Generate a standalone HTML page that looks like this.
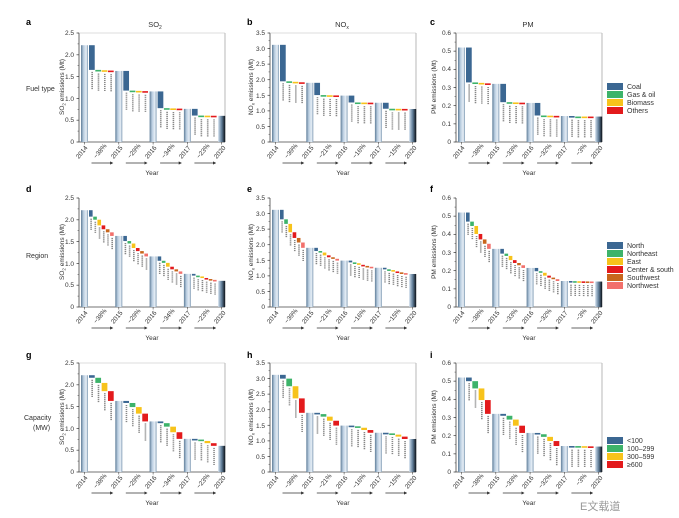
<!DOCTYPE html>
<html><head><meta charset="utf-8"><style>
html,body{margin:0;padding:0;background:#fff;width:679px;height:518px;overflow:hidden}
svg{display:block;font-family:"Liberation Sans",Arial,sans-serif}
.t{font-size:6.5px;fill:#333}
.yl{font-size:6.5px;fill:#333}
.lab{font-size:9px;font-weight:bold;fill:#000}
.lg{font-size:7px;fill:#333}
</style></head><body>
<svg id="s" width="679" height="518" viewBox="0 0 679 518">
<defs>
<linearGradient id="g1" x1="0" x2="1" y1="0" y2="0"><stop offset="0" stop-color="#5f7d98"/><stop offset="0.35" stop-color="#b9cde0"/><stop offset="0.75" stop-color="#e6eef6"/><stop offset="1" stop-color="#7f9ab3"/></linearGradient>
<linearGradient id="g2" x1="0" x2="1" y1="0" y2="0"><stop offset="0" stop-color="#cfdeec"/><stop offset="0.5" stop-color="#5f7d98"/><stop offset="1" stop-color="#0a0f16"/></linearGradient>
<marker id="ar" markerWidth="4" markerHeight="4" refX="3" refY="2" orient="auto"><path d="M0,0 L4,2 L0,4z" fill="#333"/></marker>
</defs>
<g id="bars"></g>

<text class="lab" x="26" y="25">a</text><text class="lab" x="247" y="25">b</text><text class="lab" x="430" y="25">c</text>
<text class="lab" x="26" y="192">d</text><text class="lab" x="247" y="192">e</text><text class="lab" x="430" y="192">f</text>
<text class="lab" x="26" y="358">g</text><text class="lab" x="247" y="358">h</text><text class="lab" x="430" y="358">i</text>
<text class="t" x="155" y="27" text-anchor="middle" style="font-size:7.5px">SO<tspan style="font-size:5px" dy="2">2</tspan></text>
<text class="t" x="342" y="27" text-anchor="middle" style="font-size:7.5px">NO<tspan style="font-size:5px" dy="2">x</tspan></text>
<text class="t" x="528" y="27" text-anchor="middle" style="font-size:7.5px">PM</text>
<text class="t" x="26" y="91" style="font-size:7px">Fuel type</text>
<text class="t" x="26" y="258" style="font-size:7px">Region</text>
<text class="t" x="24" y="420" style="font-size:7px">Capacity</text>
<text class="t" x="33" y="430" style="font-size:7px">(MW)</text>

<text class="yl" transform="translate(64,87) rotate(-90)" text-anchor="middle">SO<tspan style="font-size:4.5px" dy="1.5">2</tspan><tspan dy="-1.5"> emissions (Mt)</tspan></text>
<text class="yl" transform="translate(64,252) rotate(-90)" text-anchor="middle">SO<tspan style="font-size:4.5px" dy="1.5">2</tspan><tspan dy="-1.5"> emissions (Mt)</tspan></text>
<text class="yl" transform="translate(64,417) rotate(-90)" text-anchor="middle">SO<tspan style="font-size:4.5px" dy="1.5">2</tspan><tspan dy="-1.5"> emissions (Mt)</tspan></text>
<text class="yl" transform="translate(253,87) rotate(-90)" text-anchor="middle">NO<tspan style="font-size:4.5px" dy="1.5">x</tspan><tspan dy="-1.5"> emissions (Mt)</tspan></text>
<text class="yl" transform="translate(253,252) rotate(-90)" text-anchor="middle">NO<tspan style="font-size:4.5px" dy="1.5">x</tspan><tspan dy="-1.5"> emissions (Mt)</tspan></text>
<text class="yl" transform="translate(253,417) rotate(-90)" text-anchor="middle">NO<tspan style="font-size:4.5px" dy="1.5">x</tspan><tspan dy="-1.5"> emissions (Mt)</tspan></text>
<text class="yl" transform="translate(436,87) rotate(-90)" text-anchor="middle">PM emissions (Mt)</text>
<text class="yl" transform="translate(436,252) rotate(-90)" text-anchor="middle">PM emissions (Mt)</text>
<text class="yl" transform="translate(436,417) rotate(-90)" text-anchor="middle">PM emissions (Mt)</text>

<g class="t" text-anchor="end">
<g transform="translate(79,33)"><text x="-5" y="111">0</text><text x="-5" y="89">0.5</text><text x="-5" y="68">1.0</text><text x="-5" y="46">1.5</text><text x="-5" y="24">2.0</text><text x="-5" y="2">2.5</text></g>
<g transform="translate(79,198)"><text x="-5" y="111">0</text><text x="-5" y="89">0.5</text><text x="-5" y="68">1.0</text><text x="-5" y="46">1.5</text><text x="-5" y="24">2.0</text><text x="-5" y="2">2.5</text></g>
<g transform="translate(79,363)"><text x="-5" y="111">0</text><text x="-5" y="89">0.5</text><text x="-5" y="68">1.0</text><text x="-5" y="46">1.5</text><text x="-5" y="24">2.0</text><text x="-5" y="2">2.5</text></g>
<g transform="translate(270,33)"><text x="-5" y="111">0</text><text x="-5" y="96">0.5</text><text x="-5" y="80">1.0</text><text x="-5" y="65">1.5</text><text x="-5" y="49">2.0</text><text x="-5" y="33">2.5</text><text x="-5" y="18">3.0</text><text x="-5" y="2">3.5</text></g>
<g transform="translate(270,198)"><text x="-5" y="111">0</text><text x="-5" y="96">0.5</text><text x="-5" y="80">1.0</text><text x="-5" y="65">1.5</text><text x="-5" y="49">2.0</text><text x="-5" y="33">2.5</text><text x="-5" y="18">3.0</text><text x="-5" y="2">3.5</text></g>
<g transform="translate(270,363)"><text x="-5" y="111">0</text><text x="-5" y="96">0.5</text><text x="-5" y="80">1.0</text><text x="-5" y="65">1.5</text><text x="-5" y="49">2.0</text><text x="-5" y="33">2.5</text><text x="-5" y="18">3.0</text><text x="-5" y="2">3.5</text></g>
<g transform="translate(456,33)"><text x="-5" y="111">0</text><text x="-5" y="93">0.1</text><text x="-5" y="75">0.2</text><text x="-5" y="57">0.3</text><text x="-5" y="38">0.4</text><text x="-5" y="20">0.5</text><text x="-5" y="2">0.6</text></g>
<g transform="translate(456,198)"><text x="-5" y="111">0</text><text x="-5" y="93">0.1</text><text x="-5" y="75">0.2</text><text x="-5" y="57">0.3</text><text x="-5" y="38">0.4</text><text x="-5" y="20">0.5</text><text x="-5" y="2">0.6</text></g>
<g transform="translate(456,363)"><text x="-5" y="111">0</text><text x="-5" y="93">0.1</text><text x="-5" y="75">0.2</text><text x="-5" y="57">0.3</text><text x="-5" y="38">0.4</text><text x="-5" y="20">0.5</text><text x="-5" y="2">0.6</text></g>
</g>

<g class="t">
<g transform="translate(79,33)"><text text-anchor="end" transform="translate(9,115) rotate(-50)">2014</text><text text-anchor="end" transform="translate(44,115) rotate(-50)">2015</text><text text-anchor="end" transform="translate(78,115) rotate(-50)">2016</text><text text-anchor="end" transform="translate(112,115) rotate(-50)">2017</text><text text-anchor="end" transform="translate(147,115) rotate(-50)">2020</text><text text-anchor="end" transform="translate(28,113) rotate(-50)">−38%</text><text text-anchor="end" transform="translate(62,113) rotate(-50)">−29%</text><text text-anchor="end" transform="translate(96,113) rotate(-50)">−34%</text><text text-anchor="end" transform="translate(131,113) rotate(-50)">−23%</text><text x="73" y="142" text-anchor="middle">Year</text></g>
<g transform="translate(79,198)"><text text-anchor="end" transform="translate(9,115) rotate(-50)">2014</text><text text-anchor="end" transform="translate(44,115) rotate(-50)">2015</text><text text-anchor="end" transform="translate(78,115) rotate(-50)">2016</text><text text-anchor="end" transform="translate(112,115) rotate(-50)">2017</text><text text-anchor="end" transform="translate(147,115) rotate(-50)">2020</text><text text-anchor="end" transform="translate(28,113) rotate(-50)">−38%</text><text text-anchor="end" transform="translate(62,113) rotate(-50)">−29%</text><text text-anchor="end" transform="translate(96,113) rotate(-50)">−34%</text><text text-anchor="end" transform="translate(131,113) rotate(-50)">−23%</text><text x="73" y="142" text-anchor="middle">Year</text></g>
<g transform="translate(79,363)"><text text-anchor="end" transform="translate(9,115) rotate(-50)">2014</text><text text-anchor="end" transform="translate(44,115) rotate(-50)">2015</text><text text-anchor="end" transform="translate(78,115) rotate(-50)">2016</text><text text-anchor="end" transform="translate(112,115) rotate(-50)">2017</text><text text-anchor="end" transform="translate(147,115) rotate(-50)">2020</text><text text-anchor="end" transform="translate(28,113) rotate(-50)">−38%</text><text text-anchor="end" transform="translate(62,113) rotate(-50)">−29%</text><text text-anchor="end" transform="translate(96,113) rotate(-50)">−34%</text><text text-anchor="end" transform="translate(131,113) rotate(-50)">−23%</text><text x="73" y="142" text-anchor="middle">Year</text></g>
<g transform="translate(270,33)"><text text-anchor="end" transform="translate(9,115) rotate(-50)">2014</text><text text-anchor="end" transform="translate(44,115) rotate(-50)">2015</text><text text-anchor="end" transform="translate(78,115) rotate(-50)">2016</text><text text-anchor="end" transform="translate(112,115) rotate(-50)">2017</text><text text-anchor="end" transform="translate(147,115) rotate(-50)">2020</text><text text-anchor="end" transform="translate(28,113) rotate(-50)">−39%</text><text text-anchor="end" transform="translate(62,113) rotate(-50)">−21%</text><text text-anchor="end" transform="translate(96,113) rotate(-50)">−16%</text><text text-anchor="end" transform="translate(131,113) rotate(-50)">−15%</text><text x="73" y="142" text-anchor="middle">Year</text></g>
<g transform="translate(270,198)"><text text-anchor="end" transform="translate(9,115) rotate(-50)">2014</text><text text-anchor="end" transform="translate(44,115) rotate(-50)">2015</text><text text-anchor="end" transform="translate(78,115) rotate(-50)">2016</text><text text-anchor="end" transform="translate(112,115) rotate(-50)">2017</text><text text-anchor="end" transform="translate(147,115) rotate(-50)">2020</text><text text-anchor="end" transform="translate(28,113) rotate(-50)">−39%</text><text text-anchor="end" transform="translate(62,113) rotate(-50)">−21%</text><text text-anchor="end" transform="translate(96,113) rotate(-50)">−16%</text><text text-anchor="end" transform="translate(131,113) rotate(-50)">−15%</text><text x="73" y="142" text-anchor="middle">Year</text></g>
<g transform="translate(270,363)"><text text-anchor="end" transform="translate(9,115) rotate(-50)">2014</text><text text-anchor="end" transform="translate(44,115) rotate(-50)">2015</text><text text-anchor="end" transform="translate(78,115) rotate(-50)">2016</text><text text-anchor="end" transform="translate(112,115) rotate(-50)">2017</text><text text-anchor="end" transform="translate(147,115) rotate(-50)">2020</text><text text-anchor="end" transform="translate(28,113) rotate(-50)">−39%</text><text text-anchor="end" transform="translate(62,113) rotate(-50)">−21%</text><text text-anchor="end" transform="translate(96,113) rotate(-50)">−16%</text><text text-anchor="end" transform="translate(131,113) rotate(-50)">−15%</text><text x="73" y="142" text-anchor="middle">Year</text></g>
<g transform="translate(456,33)"><text text-anchor="end" transform="translate(9,115) rotate(-50)">2014</text><text text-anchor="end" transform="translate(44,115) rotate(-50)">2015</text><text text-anchor="end" transform="translate(78,115) rotate(-50)">2016</text><text text-anchor="end" transform="translate(112,115) rotate(-50)">2017</text><text text-anchor="end" transform="translate(147,115) rotate(-50)">2020</text><text text-anchor="end" transform="translate(28,113) rotate(-50)">−38%</text><text text-anchor="end" transform="translate(62,113) rotate(-50)">−33%</text><text text-anchor="end" transform="translate(96,113) rotate(-50)">−32%</text><text text-anchor="end" transform="translate(131,113) rotate(-50)">−3%</text><text x="73" y="142" text-anchor="middle">Year</text></g>
<g transform="translate(456,198)"><text text-anchor="end" transform="translate(9,115) rotate(-50)">2014</text><text text-anchor="end" transform="translate(44,115) rotate(-50)">2015</text><text text-anchor="end" transform="translate(78,115) rotate(-50)">2016</text><text text-anchor="end" transform="translate(112,115) rotate(-50)">2017</text><text text-anchor="end" transform="translate(147,115) rotate(-50)">2020</text><text text-anchor="end" transform="translate(28,113) rotate(-50)">−38%</text><text text-anchor="end" transform="translate(62,113) rotate(-50)">−33%</text><text text-anchor="end" transform="translate(96,113) rotate(-50)">−32%</text><text text-anchor="end" transform="translate(131,113) rotate(-50)">−3%</text><text x="73" y="142" text-anchor="middle">Year</text></g>
<g transform="translate(456,363)"><text text-anchor="end" transform="translate(9,115) rotate(-50)">2014</text><text text-anchor="end" transform="translate(44,115) rotate(-50)">2015</text><text text-anchor="end" transform="translate(78,115) rotate(-50)">2016</text><text text-anchor="end" transform="translate(112,115) rotate(-50)">2017</text><text text-anchor="end" transform="translate(147,115) rotate(-50)">2020</text><text text-anchor="end" transform="translate(28,113) rotate(-50)">−38%</text><text text-anchor="end" transform="translate(62,113) rotate(-50)">−33%</text><text text-anchor="end" transform="translate(96,113) rotate(-50)">−32%</text><text text-anchor="end" transform="translate(131,113) rotate(-50)">−3%</text><text x="73" y="142" text-anchor="middle">Year</text></g>
</g>

<g class="lg">
<rect x="607" y="83" width="16" height="7" fill="#3b6792"/><text x="627" y="89">Coal</text>
<rect x="607" y="91" width="16" height="7" fill="#3db36a"/><text x="627" y="97">Gas &amp; oil</text>
<rect x="607" y="99" width="16" height="7" fill="#f7c31b"/><text x="627" y="105">Biomass</text>
<rect x="607" y="107" width="16" height="7" fill="#e31a1c"/><text x="627" y="113">Others</text>
<rect x="607" y="242" width="16" height="7" fill="#3b6792"/><text x="627" y="248">North</text>
<rect x="607" y="250" width="16" height="7" fill="#3db36a"/><text x="627" y="256">Northeast</text>
<rect x="607" y="258" width="16" height="7" fill="#f7c31b"/><text x="627" y="264">East</text>
<rect x="607" y="266" width="16" height="7" fill="#e31a1c"/><text x="627" y="272">Center &amp; south</text>
<rect x="607" y="274" width="16" height="7" fill="#c8661c"/><text x="627" y="280">Southwest</text>
<rect x="607" y="282" width="16" height="7" fill="#f2706c"/><text x="627" y="288">Northwest</text>
<rect x="607" y="437" width="16" height="7" fill="#3b6792"/><text x="627" y="443">&lt;100</text>
<rect x="607" y="445" width="16" height="7" fill="#3db36a"/><text x="627" y="451">100–299</text>
<rect x="607" y="453" width="16" height="7" fill="#f7c31b"/><text x="627" y="459">300–599</text>
<rect x="607" y="461" width="16" height="7" fill="#e31a1c"/><text x="627" y="467">≥600</text>
</g>
<text x="580" y="510" style="font-size:11px;fill:#999">E文载道</text>
</svg>
<script>
var NS="http://www.w3.org/2000/svg",G=document.getElementById("bars");
function el(t,a){var e=document.createElementNS(NS,t);for(var k in a)e.setAttribute(k,a[k]);G.appendChild(e);return e;}
var C4=["#3b6792","#3db36a","#f7c31b","#e31a1c"],C6=["#3b6792","#3db36a","#f7c31b","#e31a1c","#c8661c","#f2706c"];
var cols=[{x:79,tot:[2.22,1.63,1.16,0.76,0.60],M:2.5,nt:6},{x:270,tot:[3.12,1.90,1.49,1.26,1.06],M:3.5,nt:8},{x:456,tot:[0.52,0.32,0.215,0.143,0.14],M:0.6,nt:7}];
var rows=[{y:33,c:C4,f:[0.96,0.013,0.013,0.014]},{y:198,c:C6,f:[0.25,0.12,0.22,0.15,0.12,0.14]},{y:363,c:C4,f:[0.1,0.2,0.32,0.38]}];
var W=146,H=109;
rows.forEach(function(r,ri){cols.forEach(function(c){
 var x0=c.x,y0=r.y;
 function Y(v){return y0+H-v/c.M*H;}
 el("line",{x1:x0,y1:y0,x2:x0,y2:y0+H,stroke:"#444","stroke-width":0.8});
 el("line",{x1:x0,y1:y0+H,x2:x0+W,y2:y0+H,stroke:"#444","stroke-width":0.8});
 if(ri!=1){el("line",{x1:x0+W,y1:y0,x2:x0+W,y2:y0+H,stroke:"#888","stroke-width":0.6});el("line",{x1:x0,y1:y0,x2:x0+W,y2:y0,stroke:"#bbb","stroke-width":0.5});}
 for(var i=0;i<c.nt;i++){var yy=y0+H-i*H/(c.nt-1);el("line",{x1:x0-2.5,y1:yy,x2:x0,y2:yy,stroke:"#444","stroke-width":0.7});}
 for(var i=0;i<(c.nt-1)*2+1;i++){var yy=y0+H-i*H/((c.nt-1)*2);el("line",{x1:x0-1.5,y1:yy,x2:x0,y2:yy,stroke:"#444","stroke-width":0.5});}
 for(var i=0;i<5;i++){
  var bx=x0+2+i*34.3;
  el("rect",{x:bx,y:Y(c.tot[i]),width:7,height:H-(Y(c.tot[i])-y0),fill:i==4?"url(#g2)":"url(#g1)"});
  var cx=bx+3.5;
  el("line",{x1:cx,y1:y0+H,x2:cx,y2:y0+H+2.5,stroke:"#444","stroke-width":0.6});
  if(i<4){
   el("line",{x1:cx+7,y1:y0+H+21,x2:cx+28,y2:y0+H+21,stroke:"#333","stroke-width":0.8,"marker-end":"url(#ar)"});
   var n=r.f.length,sx=bx+8,ex=bx+34.3-1,sw=(ex-sx)/n,L=c.tot[i],D=c.tot[i]-c.tot[i+1];
   for(var k=0;k<n;k++){
    var d=D*r.f[k],yt=Y(L),yb=Y(L-d),h=Math.max(yb-yt,1.6);
    el("rect",{x:sx+k*sw,y:yt,width:sw-0.6,height:h,fill:r.c[k]});
    var lx=sx+k*sw+sw/2, ly=yt+h+2, len=ri==1?12:18;
    el("line",{x1:lx,y1:ly,x2:lx,y2:Math.min(ly+len,y0+H-1),stroke:"#555","stroke-width":1.6,"stroke-dasharray":"1.2 0.8",opacity:0.7});
    L-=d;
   }
  }
 }
});});
</script>
</body></html>
